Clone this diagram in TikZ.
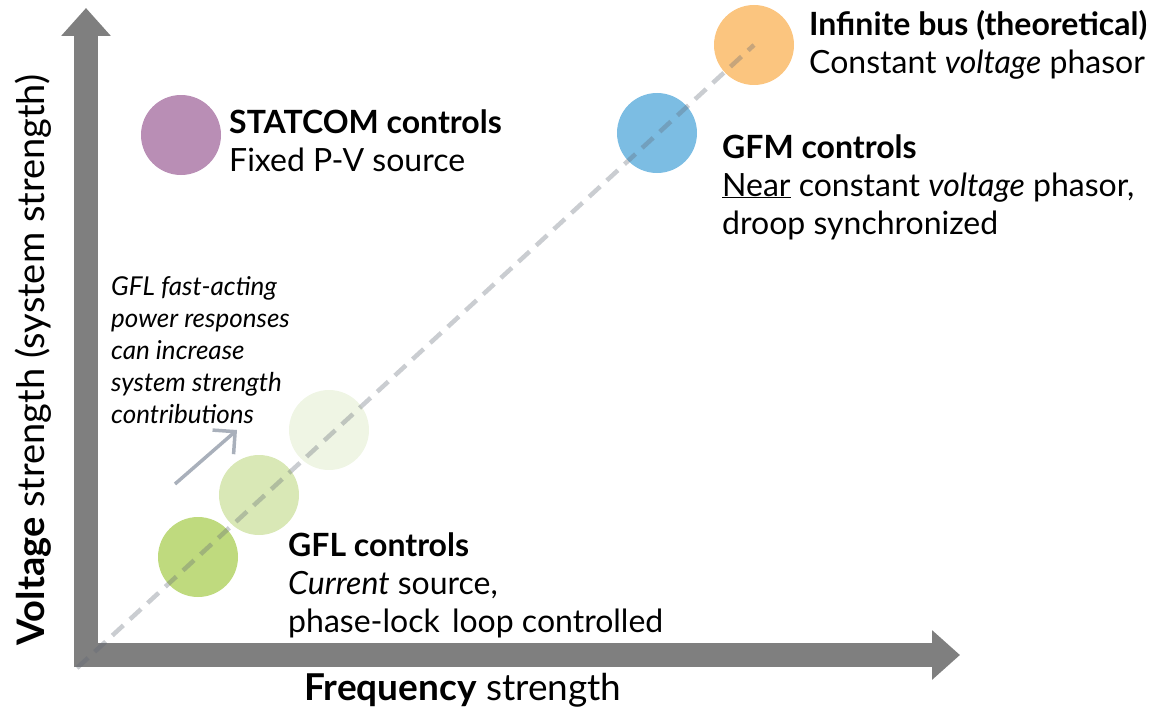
\documentclass[tikz,border=0pt]{standalone}
\usepackage{fontspec}
\setmainfont{Lato}
\usetikzlibrary{arrows.meta,positioning}
\definecolor{axisGray}{HTML}{7F7F7F}
\definecolor{trendGray}{HTML}{5F6673}
\definecolor{hintGray}{HTML}{A9B0BB}
\definecolor{statcomFill}{HTML}{B98EB5}
\definecolor{gfmFill}{HTML}{7CBDE3}
\definecolor{infFill}{HTML}{FBC57F}
\definecolor{gflDark}{HTML}{BFDA7E}
\definecolor{gflMid}{HTML}{D9E8B6}
\definecolor{gflLight}{HTML}{EFF5E4}

\begin{document}
\begin{tikzpicture}[
  x=1pt,y=-1pt,
  axis/.style={line width=24pt,axisGray,-{Triangle[length=28pt,width=48pt]}},
  ctrl/.style={circle,minimum size=80pt,inner sep=0pt},
  trend/.style={trendGray,line width=4.5pt,dash pattern=on 15pt off 9pt,draw opacity=0.33},
  hint/.style={hintGray,line width=3.5pt,-{Straight Barb[length=16pt,width=32pt]}},
  desc/.style={anchor=base west,align=left,inner sep=0pt,font=\fontsize{32}{38}\selectfont},
  note/.style={anchor=base west,align=left,inner sep=0pt,font=\fontsize{26}{32}\selectfont\itshape},
  axlabel/.style={inner sep=0pt,font=\fontsize{37}{40}\selectfont}
]
\useasboundingbox (0,0) rectangle (1157,709);

% axes
\coordinate (corner) at (86,667);
\coordinate (ytip) at (86,8);
\coordinate (xstart) at (74,655);
\coordinate (xtip) at (960,655);
\draw[axis] (corner) -- (ytip);
\draw[axis] (xstart) -- (xtip);

% control types
\node[ctrl,fill=statcomFill] (statcom) at (181,135) {};
\node[ctrl,fill=gfmFill]     (gfm)     at (657,133) {};
\node[ctrl,fill=infFill]     (inf)     at (754,45)  {};
\node[ctrl,fill=gflDark]     (gfl)     at (198,557) {};
\node[ctrl,fill=gflMid]      (gflB)    at (259,495) {};
\node[ctrl,fill=gflLight]    (gflC)    at (329,430) {};

% trend line
\coordinate (trendStart) at (77,668);
\draw[trend] (trendStart) -- (inf.center);

% GFL improvement hint
\coordinate (hintA) at (175,484);
\coordinate (hintB) at (237,430);
\draw[hint] (hintA) -- (hintB);

% labels (anchored at the last baseline)
\node[desc] (statcomTxt) at (229,171) {\textbf{STATCOM controls}\\Fixed P-V source};
\node[desc] (infTxt) at (809,74) {\textbf{Infinite bus (theoretical)}\\Constant \textit{voltage} phasor};
\node[desc] (gfmTxt) at (722,234) {\textbf{GFM controls}\\\underline{Near} constant \textit{voltage} phasor,\\droop synchronized};
\node[desc] (gflTxt) at (288,632) {\textbf{GFL controls}\\\textit{Current} source,\\phase-lock\hspace{4pt} loop controlled};
\node[note] (hintTxt) at (111,423) {GFL fast-acting\\power responses\\can increase\\system strength\\contributions};

\node[axlabel,anchor=base] (xlabel) at (463,700) {\textbf{Frequency} strength};
\node[axlabel,anchor=base,rotate=90,font=\fontsize{38}{42}\selectfont] (ylabel) at (44,360) {\textbf{Voltage} strength (system strength)};
\end{tikzpicture}
\end{document}
